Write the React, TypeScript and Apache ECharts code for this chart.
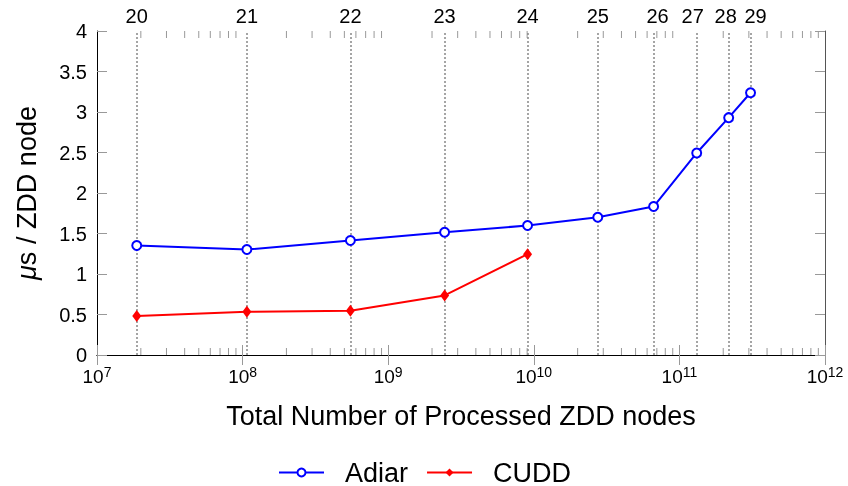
import React, { useEffect, useRef } from "react";
import * as echarts from "echarts";

const nValues = [20, 21, 22, 23, 24, 25, 26, 27, 28, 29];
const processedNodes = [1.875e7, 1.07e8, 5.5e8, 2.44e9, 9.06e9, 2.75e10, 6.65e10, 1.315e11, 2.18e11, 3.08e11];
const adiarValues = [1.351, 1.302, 1.413, 1.516, 1.598, 1.7, 1.833, 2.494, 2.93, 3.238];
const cuddValues = [0.481, 0.534, 0.546, 0.735, 1.245];
const yTicks = [0, 0.5, 1, 1.5, 2, 2.5, 3, 3.5, 4];
const decades = [7, 8, 9, 10, 11];
const minorMultipliers = [2, 3, 4, 5, 6, 7, 8, 9];
// small horizontal nudges of the top labels, as in the reference
const topLabelNudge = [0, 0, 0, 0, 0, 0, 4, -4, -3, 5];

const FONT = "Liberation Sans";

export default function App() {
  const ref = useRef<HTMLDivElement>(null);
  useEffect(() => {
    if (!ref.current) return;
    const chart = echarts.init(ref.current, undefined, { renderer: "svg" });
    const minorTicks: number[] = [];
    decades.forEach((d) => minorMultipliers.forEach((m) => minorTicks.push(m * Math.pow(10, d))));

    const xLog = {
      type: "log",
      logBase: 10,
      min: 1e7,
      max: 1e12,
    };

    chart.setOption({
      animation: false,
      textStyle: { fontFamily: FONT },
      grid: { left: 97, right: 23, top: 31, bottom: 131, containLabel: false },
      legend: {
        top: 454,
        left: 273,
        itemWidth: 45,
        itemHeight: 10,
        itemGap: 18,
        textStyle: { fontSize: 27, color: "#000", fontFamily: FONT, padding: [0, 0, 0, 16] },
        data: ["Adiar", "CUDD"],
      },
      xAxis: [
        {
          ...xLog,
          position: "bottom",
          name: "Total Number of Processed ZDD nodes",
          nameLocation: "middle",
          nameGap: 47,
          nameTextStyle: { fontSize: 27, color: "#000", fontFamily: FONT },
          axisLine: { show: true, lineStyle: { color: "#000", width: 1 } },
          axisTick: { show: true, inside: true, length: 10, lineStyle: { color: "#999", width: 1 } },
          splitLine: { show: false },
          axisLabel: {
            margin: 10,
            color: "#000",
            formatter: (v: number) => `{b|10}{s|${Math.round(Math.log10(v))}}`,
            rich: {
              b: { fontSize: 19, color: "#000", fontFamily: FONT },
              s: { fontSize: 14, color: "#000", fontFamily: FONT, padding: [0, 0, 9, 0] },
            },
          },
        },
        {
          ...xLog,
          position: "top",
          axisLine: { show: true, lineStyle: { color: "#000", width: 1 } },
          axisTick: { show: true, inside: true, length: 10, lineStyle: { color: "#999", width: 1 } },
          axisLabel: { show: false },
          splitLine: { show: false },
        },
      ],
      yAxis: [
        {
          type: "value",
          min: 0,
          max: 4,
          interval: 0.5,
          name: "{i|μ}s / ZDD node",
          nameLocation: "middle",
          nameGap: 57,
          nameTextStyle: {
            fontSize: 27,
            color: "#000",
            fontFamily: FONT,
            rich: { i: { fontSize: 27, fontStyle: "italic", color: "#000", fontFamily: FONT } },
          },
          axisLine: { show: true, lineStyle: { color: "#000", width: 1 } },
          axisTick: { show: true, inside: true, length: 10, lineStyle: { color: "#999", width: 1 } },
          splitLine: { show: false },
          axisLabel: {
            margin: 10,
            fontSize: 20,
            color: "#000",
            formatter: (v: number) => (yTicks.includes(v) ? String(v) : ""),
          },
        },
        {
          type: "value",
          min: 0,
          max: 4,
          interval: 0.5,
          position: "right",
          axisLine: { show: true, lineStyle: { color: "#555", width: 1 } },
          axisTick: { show: true, inside: true, length: 10, lineStyle: { color: "#999", width: 1 } },
          axisLabel: { show: false },
          splitLine: { show: false },
        },
      ],
      series: [
        {
          name: "Adiar",
          type: "line",
          xAxisIndex: 0,
          yAxisIndex: 0,
          data: processedNodes.map((x, i) => [x, adiarValues[i]]),
          symbol: "circle",
          symbolSize: 9,
          showAllSymbol: true,
          lineStyle: { color: "#0000ff", width: 2 },
          itemStyle: { color: "#fff", borderColor: "#0000ff", borderWidth: 2 },
          z: 5,
          markLine: {
            silent: true,
            symbol: "none",
            animation: false,
            lineStyle: { color: "#888", type: [2, 2], width: 1.5 },
            label: {
              show: true,
              position: "end",
              distance: 5,
              fontSize: 20,
              color: "#000",
              fontFamily: FONT,
              formatter: (p: any) => p.name,
            },
            emphasis: { disabled: true },
            data: processedNodes.map((x, i) => ({
              name: String(nValues[i]),
              xAxis: x,
              label: { offset: [topLabelNudge[i], 0] },
            })),
          },
        },
        {
          name: "CUDD",
          type: "line",
          xAxisIndex: 0,
          yAxisIndex: 0,
          data: processedNodes.slice(0, cuddValues.length).map((x, i) => [x, cuddValues[i]]),
          symbol: "diamond",
          symbolSize: [9, 12],
          showAllSymbol: true,
          lineStyle: { color: "#ff0000", width: 2 },
          itemStyle: { color: "#ff0000", borderColor: "#ff0000", borderWidth: 0 },
          z: 5,
        },
        {
          name: "minorTicks",
          type: "custom",
          xAxisIndex: 0,
          yAxisIndex: 0,
          silent: true,
          z: 1,
          data: minorTicks.map((v) => [v]),
          renderItem: (params: any, api: any) => {
            const x = api.coord([api.value(0), 0])[0];
            const c = params.coordSys;
            const top = c.y;
            const bottom = c.y + c.height;
            return {
              type: "group",
              children: [
                { type: "line", shape: { x1: x, y1: bottom, x2: x, y2: bottom - 7 }, style: { stroke: "#999", lineWidth: 1 } },
                { type: "line", shape: { x1: x, y1: top, x2: x, y2: top + 7 }, style: { stroke: "#999", lineWidth: 1 } },
              ],
            };
          },
        },
      ],
    });
    return () => chart.dispose();
  }, []);
  return <div ref={ref} style={{ position: "fixed", left: 0, top: 0, width: 848, height: 486 }} />;
}
